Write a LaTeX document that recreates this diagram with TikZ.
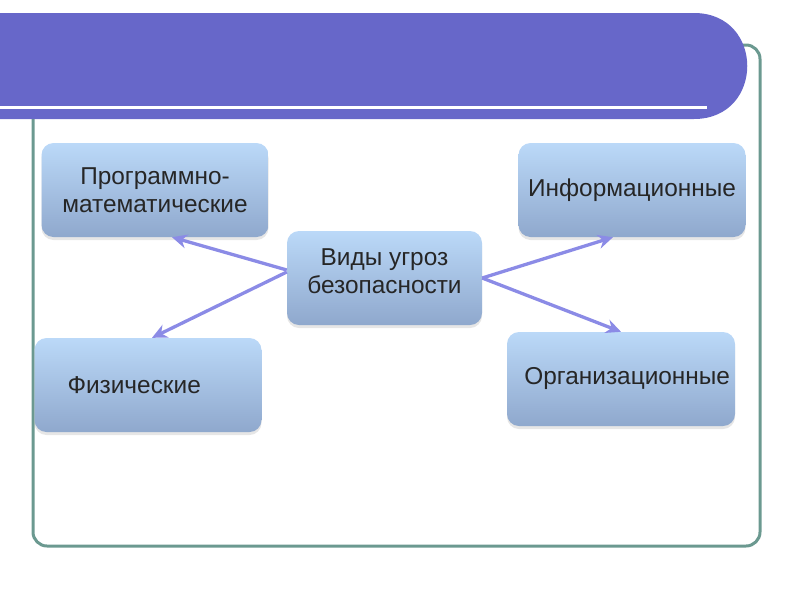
\documentclass[tikz,border=0pt]{standalone}
\usepackage{fontspec}
\setmainfont{Liberation Sans}
\usetikzlibrary{arrows.meta,shadows}
\definecolor{banner}{HTML}{6767C9}
\definecolor{frameteal}{HTML}{6B9990}
\definecolor{arrowlav}{HTML}{8B8BE6}
\definecolor{boxtop}{HTML}{BBD9F8}
\definecolor{boxbot}{HTML}{8FA8CD}
\tikzset{
  threat/.style={rounded corners=12pt, top color=boxtop, bottom color=boxbot,
    minimum width=227pt, minimum height=94pt, align=center, inner sep=0pt,
    font=\fontsize{24.4}{28}\selectfont, text=black!85,
    drop shadow={opacity=0.2, shadow xshift=0pt, shadow yshift=-3pt}},
  link/.style={arrowlav, line width=3.3pt, -{Stealth[length=15pt,width=14pt]}}
}
\begin{document}
\begin{tikzpicture}[x=1pt,y=-1pt]
  \useasboundingbox (0,0) rectangle (800,600);
  % frame and title banner
  \draw[frameteal, line width=3pt, rounded corners=14pt] (33,45) rectangle (760,546);
  \fill[banner] (-5,13) -- (694,13) .. controls (765,13) and (765,119) .. (694,119) -- (-5,119) -- cycle;
  \draw[white, line width=3pt] (-5,107) -- (707,107);
  % boxes
  \node[threat, minimum width=195pt] (center) at (384.5,278) {Виды угроз\\безопасности\\[-22pt]\strut};
  \node[threat] (prog)   at (155,190) {Программно-\\математические};
  \node[threat] (info)   at (632,190) {Информационные};
  \node[threat, align=left, text width=161pt, inner xsep=33pt] (phys) at (148,385) {Физические};
  \node[threat, align=right, text width=218pt, inner xsep=5pt] (org) at (621,379) {Организационные};
  % arrows
  \coordinate (progtip) at ([xshift=17pt]prog.south);
  \coordinate (infotip) at ([xshift=-19pt]info.south);
  \draw[link] ([yshift=8pt]center.west) -- (progtip);
  \draw[link] ([yshift=6pt]center.west) -- ([xshift=4pt]phys.north);
  \draw[link] (center.east) -- (infotip);
  \draw[link] (center.east) -- (org.north);
\end{tikzpicture}
\end{document}
